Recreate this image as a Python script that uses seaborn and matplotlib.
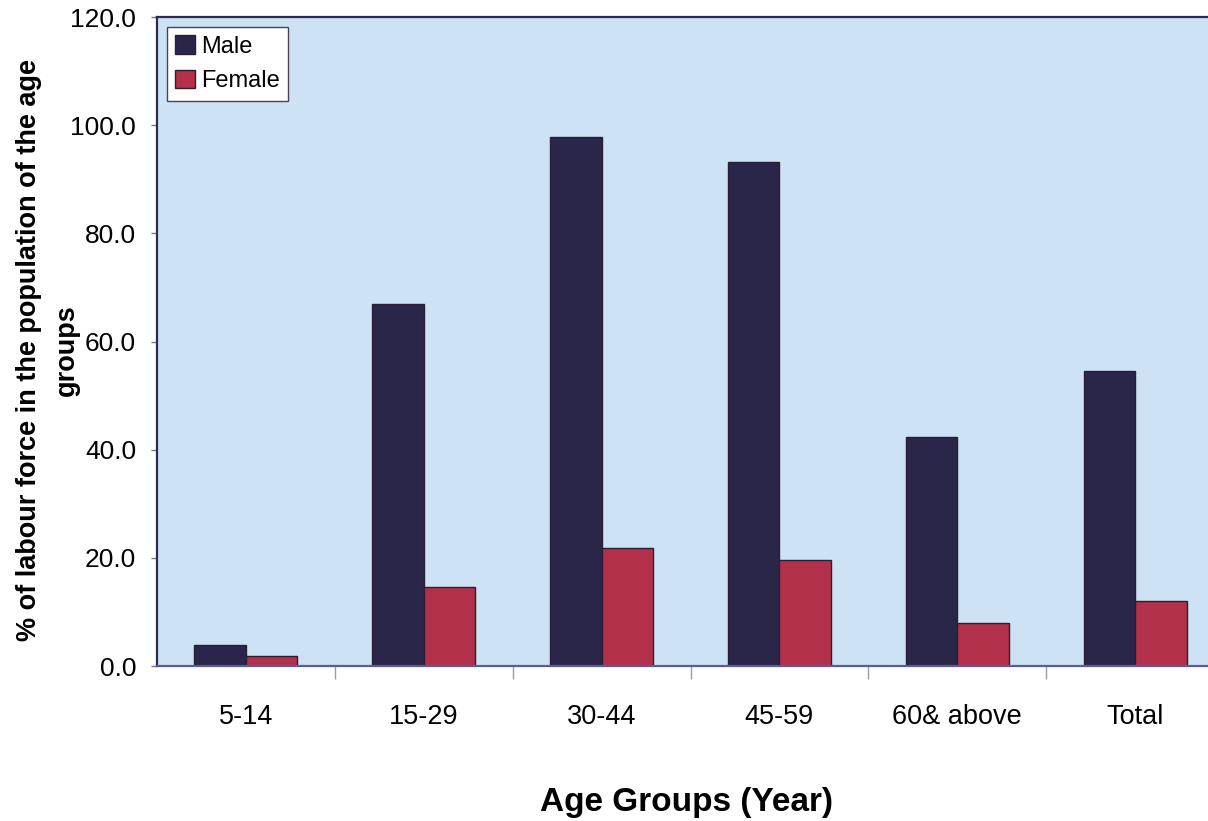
import matplotlib
matplotlib.use("Agg")
import matplotlib.pyplot as plt
import numpy as np
import pandas as pd
import seaborn as sns
from matplotlib.ticker import FixedLocator, FormatStrFormatter

# ---- data ----
categories = ["5-14", "15-29", "30-44", "45-59", "60& above", "Total"]
male = [3.9, 66.9, 97.8, 93.2, 42.3, 54.5]
female = [1.9, 14.6, 21.8, 19.6, 7.9, 12.1]
series = ["Male", "Female"]
yticks = [0, 20, 40, 60, 80, 100, 120]
ylabel_line1 = "% of labour force in the population of the age"
ylabel_line2 = "groups"
xlabel_text = "Age Groups (Year)"

sns.set_theme(style="white")
plt.rcParams['font.family'] = ['Liberation Sans', 'DejaVu Sans']
plt.rcParams['text.color'] = 'black'
plt.rcParams['axes.labelcolor'] = 'black'

df = pd.DataFrame({
    "Age": categories * 2,
    "Value": male + female,
    "Sex": [series[0]] * len(categories) + [series[1]] * len(categories),
})

W, H = 1208, 821
fig = plt.figure(figsize=(W / 100, H / 100), dpi=100)
fig.patch.set_facecolor("white")
ax_left, ax_right, ax_top, ax_bot = 157, 1208, 17, 666
aw, ah = ax_right - ax_left, ax_bot - ax_top
ax = fig.add_axes([ax_left / W, 1 - ax_bot / H, aw / W, ah / H])

palette = {"Male": "#29264a", "Female": "#b3304a"}
sns.barplot(data=df, x="Age", y="Value", hue="Sex", order=categories, hue_order=series,
            palette=palette, width=0.58, gap=0, edgecolor="#2a1f35", linewidth=1.0,
            saturation=1, ax=ax, legend=True)

ax.set_xlim(-0.5, 5.41)
ax.set_ylim(0, 120)
ax.set_facecolor("#cde2f5")

# y axis
ax.yaxis.set_major_locator(FixedLocator(yticks))
ax.yaxis.set_major_formatter(FormatStrFormatter("%.1f"))
ax.tick_params(axis="y", which="major", length=4, width=1, color="#777788",
               labelsize=19, pad=11, left=True, labelcolor="black")

# x axis
ax.set_xticks(range(len(categories)))
ax.set_xticklabels(categories)
ax.tick_params(axis="x", which="major", length=0, labelsize=19.5, pad=27, labelcolor="black")
ax.xaxis.set_minor_locator(FixedLocator([i + 0.5 for i in range(len(categories) - 1)]))
ax.tick_params(axis="x", which="minor", length=9, width=1, color="#9999aa", bottom=True)

# spines
for s in ["left", "top"]:
    ax.spines[s].set_visible(True)
    ax.spines[s].set_color("#2a2a4e")
    ax.spines[s].set_linewidth(1.6)
ax.spines["bottom"].set_color("#5b5b9c")
ax.spines["bottom"].set_linewidth(1.6)
ax.spines["right"].set_visible(False)

# labels (y label drawn as two centred lines)
ylab_cy = (ax_bot - 350) / ah
ax.set_ylabel(ylabel_line1, fontsize=19.5, fontweight="bold", color="black")
ax.yaxis.label.set_va("center")
ax.yaxis.set_label_coords((29 - ax_left) / aw, ylab_cy)
ax.text((67 - ax_left) / aw, ylab_cy, ylabel_line2, transform=ax.transAxes,
        rotation=90, ha="center", va="center", fontsize=19.5, fontweight="bold", color="black")

ax.set_xlabel(xlabel_text, fontsize=24, fontweight="bold", color="black")
ax.xaxis.label.set_va("baseline")
ax.xaxis.set_label_coords((687 - ax_left) / aw, (ax_bot - 811) / ah)

# legend
handles, labels = ax.get_legend_handles_labels()
leg = ax.legend(handles, labels, loc="upper left",
                bbox_to_anchor=(10 / aw, 1 - 10 / ah),
                borderaxespad=0, fontsize=17, handlelength=0.85, handleheight=0.85,
                handletextpad=0.25, labelspacing=0.5, borderpad=0.35,
                fancybox=False, framealpha=1, facecolor="white", edgecolor="#444455",
                title=None, labelcolor="black")
leg.get_frame().set_linewidth(1.0)

fig.savefig("out.png", dpi=100)
